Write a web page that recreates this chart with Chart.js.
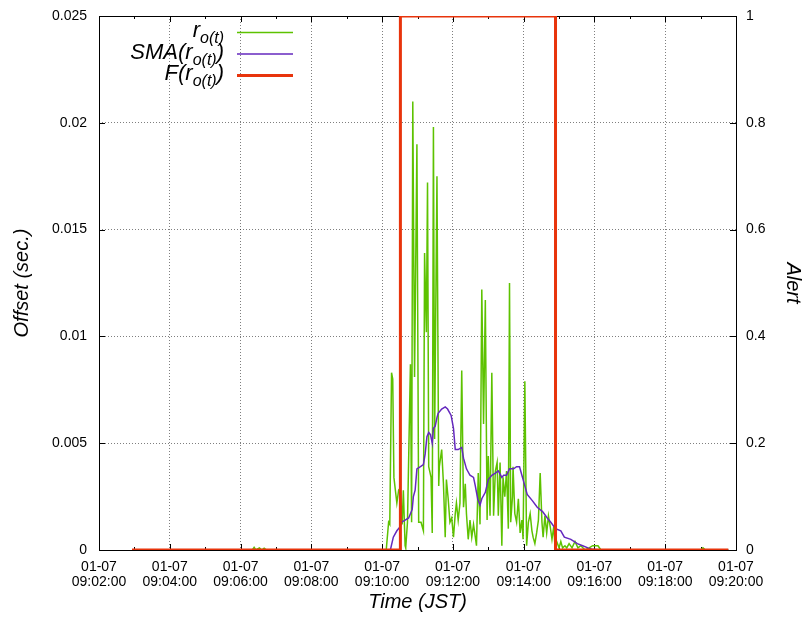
<!DOCTYPE html>
<html>
<head>
<meta charset="utf-8">
<title>Offset alert</title>
<script src="https://cdn.jsdelivr.net/npm/chart.js@4"></script>
<style>
  html, body { margin: 0; padding: 0; background: #fff; }
  canvas { display: block; }
</style>
</head>
<body>
<canvas id="offsetChart" width="806" height="617"></canvas>
<script>
// times are seconds after 09:00:00 (JST, 01-07)
const rTimes = [176, 380, 383, 386, 392, 396, 400, 404, 607, 611, 613, 616, 618, 620, 625, 628, 631, 634, 636, 639, 640,
  643, 648, 650, 652, 655, 659, 662, 666, 670, 672, 675, 677, 679, 683, 685, 687, 689, 693, 696, 697,
  701, 704, 707, 709, 712, 715, 718, 721, 724, 726, 729, 732, 735, 738, 741, 743, 746, 749, 752, 755,
  758, 760, 763, 766, 769, 772, 775, 778, 780, 783, 786, 789, 792, 795, 797, 800, 803, 805, 808, 811,
  814, 816, 818, 821, 822, 825, 828, 831, 834, 837, 839, 842, 845, 848, 851, 854, 856, 859, 862, 865,
  868, 871, 873, 876, 879, 882, 885, 888, 891, 893, 896, 900, 903, 906, 910, 913, 917, 922, 927, 932,
  937, 944, 951, 957, 966, 971, 1140, 1144, 1148, 1187];
const rValues = [0, 0, 0.00012, 0, 0.0001, 0, 0.00008, 0, 0, 0.0013, 0.0012, 0.0083, 0.0080, 0.0034, 0.0022, 0.0028, 0.0027, 0.0012, 0.0028, 0.0002, 0.0001,
  0.0013, 0.0087, 0.0013, 0.0210, 0.0081, 0.0190, 0.0013, 0.0013, 0.0009, 0.0139, 0.0102, 0.0172, 0.0039, 0.0034, 0.0008, 0.0198, 0.0052, 0.0175, 0.0030, 0.0039,
  0.0047, 0.0031, 0.0006, 0.0033, 0.0024, 0.0013, 0.0015, 0.0006, 0.0017, 0.0022, 0.0014, 0.0022, 0.0084, 0.0020, 0.0031, 0.0017, 0.0005, 0.0014, 0.0006, 0.0012,
  0.0006, 0.0002, 0.0036, 0.0012, 0.0122, 0.0059, 0.0117, 0.0014, 0.0044, 0.0016, 0.0083, 0.0016, 0.0037, 0.0041, 0.0016, 0.0041, 0.0002, 0.0034, 0.0025, 0.0037,
  0.0010, 0.0125, 0.0013, 0.0025, 0.0039, 0.0017, 0.0013, 0.0024, 0.0008, 0.0014, 0.0005, 0.0079, 0.0002, 0.0013, 0.0017, 0.0009, 0.0006, 0.0003, 0.0008, 0.0014,
  0.0036, 0.0013, 0.0006, 0.0016, 0.0008, 0.0016, 0.0011, 0.0005, 0.0011, 0.0002, 0.0004, 0.0001, 0.0004, 0.0001, 0.0002, 0.0001, 0.0003, 0.0001, 0.0004, 0.0001,
  0.0002, 0, 0.0001, 0.0002, 0.0002, 0, 0, 0.0001, 0, 0];

const smaTimes = [176, 614, 619, 625, 631, 633, 639, 645, 651, 653, 656, 659, 665, 670, 673, 676, 679, 682, 685, 687, 690,
  693, 695, 701, 707, 711, 717, 721, 724, 729, 735, 738, 743, 749, 755, 758, 762, 766, 769, 775, 780,
  786, 792, 797, 803, 806, 811, 816, 823, 828, 833, 837, 840, 846, 855, 863, 872, 880, 886, 894, 903,
  909, 920, 931, 940, 949, 957, 971, 1187];
const smaValues = [0, 0, 0.0006, 0.0009, 0.0011, 0.0013, 0.0014, 0.0015, 0.0019, 0.0025, 0.0028, 0.0038, 0.0039, 0.0040, 0.0045, 0.0053, 0.0055, 0.0054, 0.0050, 0.0057, 0.0058,
  0.0062, 0.0064, 0.0066, 0.0067, 0.0066, 0.0063, 0.0057, 0.0047, 0.0047, 0.0048, 0.0043, 0.0038, 0.0035, 0.0034, 0.0030, 0.0024, 0.0021, 0.0024, 0.0027, 0.0033,
  0.0035, 0.0036, 0.0037, 0.0034, 0.0035, 0.0035, 0.0038, 0.0038, 0.0039, 0.0039, 0.0035, 0.0032, 0.0026, 0.0023, 0.0020, 0.0018, 0.0015, 0.0013, 0.0010, 0.0009,
  0.0006, 0.0005, 0.0003, 0.0002, 0.0001, 0.00003, 0, 0];

const alertTimes = [176, 631, 631, 894, 894, 1187];
const alertValues = [0, 0, 1, 1, 0, 0];

const xTickDate = '01-07';
const offsetTickLabels = ['0', '0.005', '0.01', '0.015', '0.02', '0.025'];
const alertTickLabels = ['0', '0.2', '0.4', '0.6', '0.8', '1'];
const legendMain = ['r', 'SMA(r', 'F(r'];
const legendSub = ['o(t)', 'o(t)', 'o(t)'];
const legendTail = ['', ')', ')'];

const GREEN = '#5dc200';
const PURPLE = '#6428be';
const RED = '#e8340c';
const FONT = "'Liberation Sans', Arial, Helvetica, sans-serif";

Chart.defaults.font.family = FONT;
Chart.defaults.color = '#000';

function toPoints(xs, ys) {
  return xs.map(function(t, i) { return { x: t, y: ys[i] }; });
}

function clockLabel(sec) {
  const m = Math.floor(sec / 60), s = sec % 60;
  return '09:' + String(m).padStart(2, '0') + ':' + String(s).padStart(2, '0');
}

// vertical axes: fixed width, no extra room above/below for the end labels
function fixVertical(width) {
  return function(scale) {
    scale.width = width;
    scale.paddingTop = 0;
    scale.paddingBottom = 0;
  };
}

// gnuplot-like box with inward tics
const framePlugin = {
  id: 'frame',
  beforeDatasetsDraw(chart) {
    const { ctx, chartArea: a, scales } = chart;
    ctx.save();
    ctx.strokeStyle = '#000';
    ctx.lineWidth = 1;
    ctx.strokeRect(Math.round(a.left) + 0.5, Math.round(a.top) + 0.5,
      Math.round(a.right - a.left), Math.round(a.bottom - a.top));
    ctx.beginPath();
    for (let t = scales.x.min; t <= scales.x.max; t += 60) {
      const px = Math.round(scales.x.getPixelForValue(t)) + 0.5;
      const len = (t % 120 === 0) ? 6 : 3;
      ctx.moveTo(px, a.bottom); ctx.lineTo(px, a.bottom - len);
      ctx.moveTo(px, a.top); ctx.lineTo(px, a.top + len);
    }
    scales.y.ticks.forEach(function(tk) {
      const py = Math.round(scales.y.getPixelForValue(tk.value)) + 0.5;
      ctx.moveTo(a.left, py); ctx.lineTo(a.left + 6, py);
    });
    scales.y2.ticks.forEach(function(tk) {
      const py = Math.round(scales.y2.getPixelForValue(tk.value)) + 0.5;
      ctx.moveTo(a.right, py); ctx.lineTo(a.right - 6, py);
    });
    ctx.stroke();
    ctx.restore();
  }
};

// key in the top-left corner with subscripted labels
const keyPlugin = {
  id: 'key',
  afterDatasetsDraw(chart) {
    const ctx = chart.ctx;
    const colors = [GREEN, PURPLE, RED];
    const widths = [1.5, 1.5, 3];
    const right = 224;
    ctx.save();
    ctx.fillStyle = '#000';
    ctx.textBaseline = 'alphabetic';
    ctx.textAlign = 'left';
    for (let i = 0; i < legendMain.length; i++) {
      const ly = 32 + i * 21.5;
      ctx.font = 'italic 22px ' + FONT;
      const wTail = ctx.measureText(legendTail[i]).width;
      const wMain = ctx.measureText(legendMain[i]).width;
      ctx.font = 'italic 16px ' + FONT;
      const wSub = ctx.measureText(legendSub[i]).width;
      let x = right - wTail - wSub - wMain;
      ctx.font = 'italic 22px ' + FONT;
      ctx.fillText(legendMain[i], x, ly + 5);
      x += wMain;
      ctx.font = 'italic 16px ' + FONT;
      ctx.fillText(legendSub[i], x, ly + 11);
      x += wSub;
      ctx.font = 'italic 22px ' + FONT;
      ctx.fillText(legendTail[i], x, ly + 5);

      ctx.strokeStyle = colors[i];
      ctx.lineWidth = widths[i];
      ctx.beginPath();
      ctx.moveTo(237, ly + 0.5);
      ctx.lineTo(293, ly + 0.5);
      ctx.stroke();
    }
    ctx.restore();
  }
};

const gridColor = 'rgba(0,0,0,0.5)';
const titleFont = { family: FONT, size: 20, style: 'italic' };

const ctx = document.getElementById('offsetChart').getContext('2d');
new Chart(ctx, {
  type: 'line',
  data: {
    datasets: [
      {
        label: 'r',
        data: toPoints(rTimes, rValues),
        borderColor: GREEN,
        borderWidth: 1.5,
        pointRadius: 0,
        tension: 0,
        yAxisID: 'y',
        order: 3
      },
      {
        label: 'SMA',
        data: toPoints(smaTimes, smaValues),
        borderColor: PURPLE,
        borderWidth: 1.5,
        pointRadius: 0,
        tension: 0,
        yAxisID: 'y',
        order: 2
      },
      {
        label: 'F',
        data: toPoints(alertTimes, alertValues),
        borderColor: RED,
        borderWidth: 3,
        pointRadius: 0,
        tension: 0,
        yAxisID: 'y2',
        order: 1
      }
    ]
  },
  options: {
    responsive: false,
    animation: false,
    layout: { padding: { top: 16, left: 0, right: 0, bottom: 0 } },
    plugins: {
      legend: { display: false },
      tooltip: { enabled: false }
    },
    scales: {
      x: {
        type: 'linear',
        min: 120,
        max: 1200,
        afterFit: function(scale) { scale.height = 67; },
        ticks: {
          stepSize: 120,
          autoSkip: false,
          maxRotation: 0,
          padding: 9,
          font: { size: 14, lineHeight: 1.1 },
          callback: function(value) { return [xTickDate, clockLabel(value)]; }
        },
        grid: { color: gridColor, drawTicks: false },
        border: { display: false, dash: [1, 2] },
        title: { display: true, text: 'Time (JST)', font: titleFont, padding: { top: 0, bottom: 3 } }
      },
      y: {
        position: 'left',
        min: 0,
        max: 0.025,
        afterFit: fixVertical(99),
        ticks: {
          stepSize: 0.005,
          padding: 12,
          font: { size: 14 },
          callback: function(value, index) { return offsetTickLabels[index]; }
        },
        grid: { color: gridColor, drawTicks: false },
        border: { display: false, dash: [1, 2] },
        title: { display: true, text: 'Offset (sec.)', font: titleFont, padding: { top: 10, bottom: 0 } }
      },
      y2: {
        position: 'right',
        min: 0,
        max: 1,
        afterFit: fixVertical(70),
        ticks: {
          stepSize: 0.2,
          padding: 10,
          font: { size: 14 },
          callback: function(value, index) { return alertTickLabels[index]; }
        },
        grid: { drawOnChartArea: false, drawTicks: false },
        border: { display: false },
        title: { display: true, text: 'Alert', font: titleFont, padding: { top: 1, bottom: 0 } }
      }
    }
  },
  plugins: [framePlugin, keyPlugin]
});
</script>
</body>
</html>
